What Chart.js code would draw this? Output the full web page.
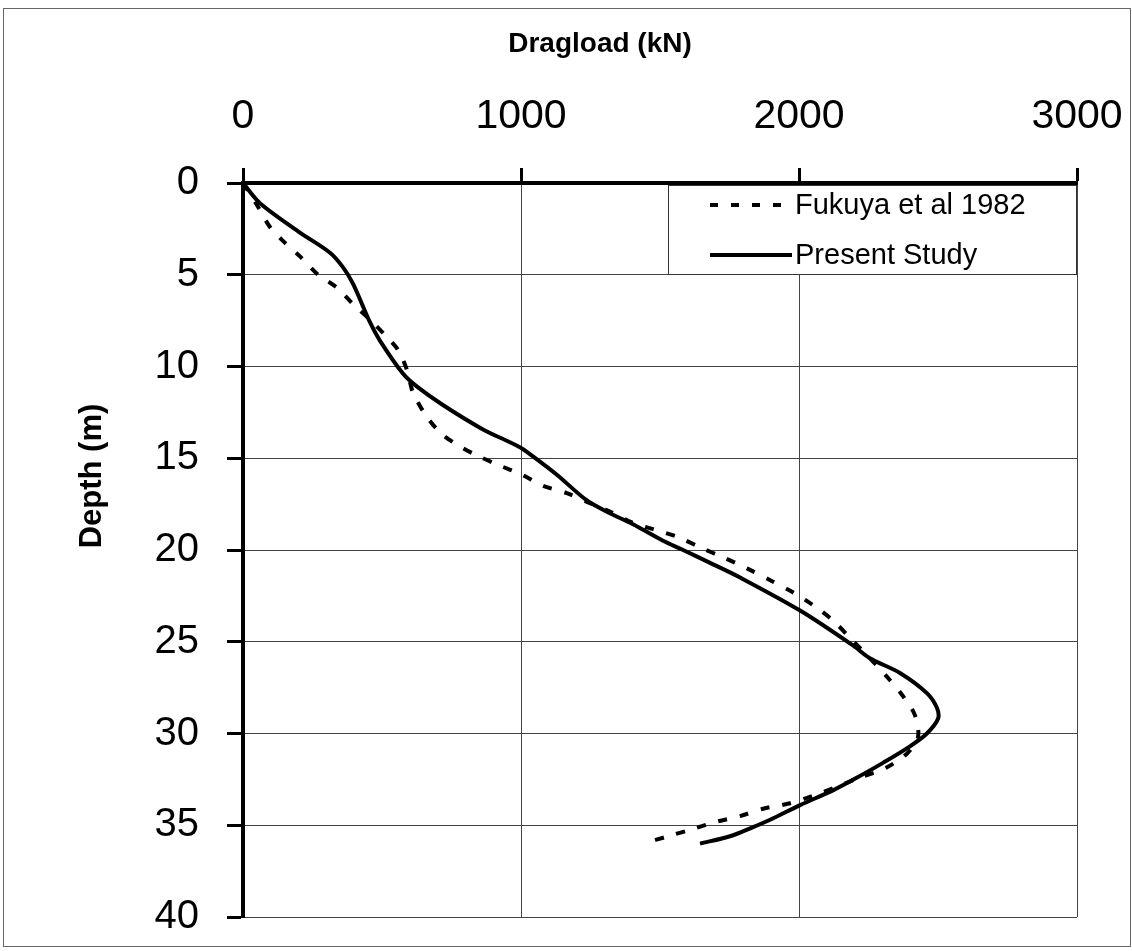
<!DOCTYPE html>
<html>
<head>
<meta charset="utf-8">
<title>Dragload vs Depth</title>
<script src="https://cdn.jsdelivr.net/npm/chart.js@4.4.1/dist/chart.umd.min.js"></script>
<style>
  html, body { margin: 0; padding: 0; background: #fff; }
  #frame {
    position: absolute;
    left: 3px;
    top: 8px;
    width: 1126px;
    height: 937px;
    border: 1px solid #666;
  }
</style>
</head>
<body>
<div id="frame">
  <canvas id="dragChart" width="1126" height="937"></canvas>
</div>
<script>
// Fukuya et al 1982 (dashed) - depth (m) and dragload (kN)
const fukuyaDepth = [0, 1.2, 2.4, 3.1, 4.0, 5.0, 5.7, 6.6, 7.5, 8.4, 9.1, 10.2, 11.4, 12.6, 13.6, 14.2, 14.8, 15.4, 15.9, 16.5, 16.9, 17.4, 17.9, 18.5, 18.9, 19.3, 19.9, 20.4, 21.0, 21.7, 22.3, 23.0, 23.8, 24.9, 25.9, 26.9, 27.9, 29.0, 30.2, 31.1, 31.9, 32.4, 32.9, 33.4, 33.8, 34.1, 34.5, 34.8, 35.2, 35.6, 36.0];
const fukuyaLoad = [0, 50, 97, 140, 205, 270, 338, 396, 460, 518, 558, 590, 611, 655, 709, 763, 835, 924, 1003, 1079, 1165, 1241, 1320, 1399, 1482, 1565, 1651, 1727, 1813, 1903, 1978, 2050, 2119, 2191, 2255, 2316, 2371, 2417, 2428, 2388, 2309, 2219, 2137, 2050, 1968, 1871, 1788, 1705, 1619, 1529, 1439];

// Present Study (solid)
const presentDepth = [0, 1.1, 2.7, 3.8, 4.6, 5.5, 7.6, 8.6, 10.4, 11.1, 12.1, 13.4, 14.4, 14.9, 15.9, 17.3, 18.0, 18.6, 19.5, 20.0, 20.7, 21.5, 23.3, 25.2, 25.9, 26.7, 27.8, 28.6, 29.2, 30.0, 30.7, 31.6, 32.4, 33.1, 33.9, 34.7, 35.1, 35.6, 36.0];
const presentLoad = [0, 61, 205, 313, 360, 396, 457, 493, 576, 626, 719, 860, 996, 1043, 1129, 1237, 1320, 1403, 1511, 1583, 1680, 1788, 2004, 2194, 2255, 2363, 2460, 2496, 2500, 2460, 2399, 2302, 2209, 2122, 2004, 1896, 1835, 1752, 1644];

const seriesNames = ['Fukuya et al 1982', 'Present Study'];
const xTicks = [0, 1000, 2000, 3000];
const yTicks = [0, 5, 10, 15, 20, 25, 30, 35, 40];

const xTitle = 'Dragload (kN)';
const yTitle = 'Depth (m)';

const FONT = '"Liberation Sans", Arial, Helvetica, sans-serif';

function toPoints(loads, depths) {
    return loads.map((v, i) => ({ x: v, y: depths[i] }));
}

// titles drawn by hand so they sit where the original has them
const axisTitles = {
    id: 'axisTitles',
    afterDraw(chart) {
        const ctx = chart.ctx;
        ctx.save();
        ctx.fillStyle = '#000';
        ctx.textAlign = 'center';
        ctx.textBaseline = 'middle';
        ctx.font = 'bold 28px ' + FONT;
        ctx.fillText(xTitle, 596, 35);
        ctx.font = 'bold 31px ' + FONT;
        ctx.translate(88, 467);
        ctx.rotate(-Math.PI / 2);
        ctx.fillText(yTitle, 0, 0);
        ctx.restore();
    }
};

// boxed legend in the top right corner of the plot
const boxLegend = {
    id: 'boxLegend',
    afterDatasetsDraw(chart) {
        const ctx = chart.ctx;
        const area = chart.chartArea;
        const w = 409, h = 90;
        const left = area.right - w;
        const top = area.top + 2;
        ctx.save();
        ctx.fillStyle = '#fff';
        ctx.fillRect(left, top, w, h);
        ctx.strokeStyle = '#333';
        ctx.lineWidth = 1;
        ctx.strokeRect(left + 0.5, top + 0.5, w - 1, h - 1);

        chart.data.datasets.forEach((ds, i) => {
            const y = top + 20 + i * 50;
            ctx.strokeStyle = ds.borderColor;
            ctx.lineWidth = ds.borderWidth;
            ctx.setLineDash(i === 0 ? [8, 13] : []);
            ctx.beginPath();
            ctx.moveTo(left + 42, y);
            ctx.lineTo(left + 124, y);
            ctx.stroke();
            ctx.setLineDash([]);
            ctx.fillStyle = '#000';
            ctx.font = '29px ' + FONT;
            ctx.textAlign = 'left';
            ctx.textBaseline = 'middle';
            ctx.fillText(ds.label, left + 127, y + 1);
        });
        ctx.restore();
    }
};

const ctx = document.getElementById('dragChart').getContext('2d');
const chart = new Chart(ctx, {
    type: 'scatter',
    data: {
        datasets: [
            {
                label: seriesNames[0],
                data: toPoints(fukuyaLoad, fukuyaDepth),
                showLine: true,
                borderColor: '#000',
                borderWidth: 4,
                borderDash: [9, 13],
                pointRadius: 0,
                tension: 0.3,
                fill: false
            },
            {
                label: seriesNames[1],
                data: toPoints(presentLoad, presentDepth),
                showLine: true,
                borderColor: '#000',
                borderWidth: 4,
                pointRadius: 0,
                tension: 0.3,
                fill: false
            }
        ]
    },
    options: {
        responsive: false,
        devicePixelRatio: 1,
        animation: false,
        layout: { padding: { left: 0, top: 0, right: 53, bottom: 29 } },
        plugins: {
            legend: { display: false },
            tooltip: { enabled: false },
            title: { display: false }
        },
        scales: {
            x: {
                type: 'linear',
                position: 'top',
                min: 0,
                max: 3000,
                afterBuildTicks: (scale) => { scale.ticks = xTicks.map(v => ({ value: v })); },
                afterFit: (scale) => {
                    scale.height = 174;
                    scale.paddingLeft = 0;
                    scale.paddingRight = 0;
                },
                grid: {
                    color: '#444',
                    lineWidth: 1,
                    tickColor: '#000',
                    tickWidth: 3,
                    tickLength: 15
                },
                border: { display: true, color: '#000', width: 4 },
                ticks: {
                    color: '#000',
                    padding: 27,
                    font: { family: FONT, size: 41 },
                    callback: (v) => String(v)
                }
            },
            y: {
                type: 'linear',
                position: 'left',
                reverse: true,
                min: 0,
                max: 40,
                afterBuildTicks: (scale) => { scale.ticks = yTicks.map(v => ({ value: v })); },
                afterFit: (scale) => {
                    scale.width = 239;
                    scale.paddingTop = 0;
                    scale.paddingBottom = 0;
                },
                grid: {
                    color: '#444',
                    lineWidth: 1,
                    tickColor: '#000',
                    tickWidth: 3,
                    tickLength: 16
                },
                border: { display: true, color: '#000', width: 4 },
                ticks: {
                    color: '#000',
                    padding: 28,
                    font: { family: FONT, size: 40 },
                    callback: (v) => String(v)
                }
            }
        }
    },
    plugins: [axisTitles, boxLegend]
});
</script>
</body>
</html>
